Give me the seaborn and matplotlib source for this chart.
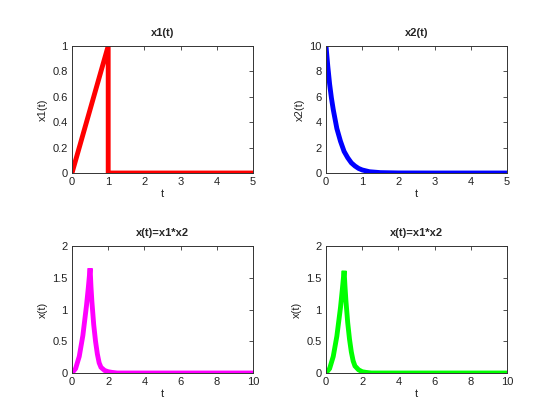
import matplotlib
matplotlib.use("Agg")
import matplotlib.pyplot as plt
import seaborn as sns
import numpy as np

# --- data ---
t1 = [0, 1, 1, 5]
x1 = [0, 1, 0, 0]

t2 = [0, 0.05, 0.1, 0.15, 0.2, 0.3, 0.4, 0.5, 0.6, 0.7, 0.8, 0.9, 1.0, 1.2, 1.5, 2, 3, 4, 5]
x2 = [10, 8.4, 7.0, 5.9, 5.0, 3.5, 2.5, 1.7, 1.2, 0.8, 0.55, 0.36, 0.24, 0.1, 0.03, 0.005, 0, 0, 0]

t3 = [0, 0.2, 0.4, 0.6, 0.8, 0.9, 1.0, 1.05, 1.1, 1.2, 1.3, 1.4, 1.5, 1.6, 1.8, 2.0, 2.2, 2.5, 3, 4, 5, 6, 7, 8, 9, 10]
x3 = [0, 0.07, 0.26, 0.59, 1.06, 1.34, 1.65, 1.35, 1.12, 0.76, 0.5, 0.3, 0.16, 0.09, 0.04, 0.02, 0.01, 0, 0, 0, 0, 0, 0, 0, 0, 0]

t4 = [0, 0.2, 0.4, 0.6, 0.8, 0.9, 1.0, 1.05, 1.1, 1.2, 1.3, 1.4, 1.5, 1.6, 1.8, 2.0, 2.2, 2.5, 3, 4, 5, 6, 7, 8, 9, 10]
x4 = [0, 0.07, 0.26, 0.58, 1.03, 1.31, 1.61, 1.36, 1.14, 0.79, 0.53, 0.33, 0.19, 0.11, 0.05, 0.02, 0.01, 0, 0, 0, 0, 0, 0, 0, 0, 0]

titles = ["x1(t)", "x2(t)", "x(t)=x1*x2", "x(t)=x1*x2"]
ylabels = ["x1(t)", "x2(t)", "x(t)", "x(t)"]
colors = ["#ff0000", "#0000ff", "#ff00ff", "#00ff00"]

sns.set_style("white")
plt.rcParams["font.family"] = ["Liberation Sans", "DejaVu Sans"]

fig = plt.figure(figsize=(5.6, 4.2), dpi=100)
W, H = 560, 420
boxes = [(72, 173), (326, 173), (72, 373), (326, 373)]
aw, ah = 181, 127

series = [(t1, x1), (t2, x2), (t3, x3), (t4, x4)]
xlims = [(0, 5), (0, 5), (0, 10), (0, 10)]
ylims = [(0, 1), (0, 10), (0, 2), (0, 2)]
xticks = [[0, 1, 2, 3, 4, 5], [0, 1, 2, 3, 4, 5], [0, 2, 4, 6, 8, 10], [0, 2, 4, 6, 8, 10]]
yticks = [[0, 0.2, 0.4, 0.6, 0.8, 1], [0, 2, 4, 6, 8, 10], [0, 0.5, 1, 1.5, 2], [0, 0.5, 1, 1.5, 2]]
yticklabels = [["0", "0.2", "0.4", "0.6", "0.8", "1"], ["0", "2", "4", "6", "8", "10"],
               ["0", "0.5", "1", "1.5", "2"], ["0", "0.5", "1", "1.5", "2"]]

for i in range(4):
    x0, y0 = boxes[i]
    ax = fig.add_axes([x0 / W, (H - y0) / H, aw / W, ah / H])
    tt, yy = series[i]
    sns.lineplot(x=tt, y=yy, ax=ax, color=colors[i], linewidth=3.5,
                 estimator=None, sort=False, solid_joinstyle="miter")
    ax.set_xlim(*xlims[i])
    ax.set_ylim(*ylims[i])
    ax.set_xticks(xticks[i])
    ax.set_xticklabels([str(v) for v in xticks[i]])
    ax.set_yticks(yticks[i])
    ax.set_yticklabels(yticklabels[i])
    for s in ax.spines.values():
        s.set_color("#333333")
        s.set_linewidth(0.7)
        s.set_visible(True)
    ax.tick_params(direction="in", length=3, width=0.6, color="#333333",
                   labelsize=8, labelcolor="#222222", top=True, right=True, pad=3)
    ax.set_title(titles[i], fontsize=8, fontweight="bold", pad=7)
    ax.set_xlabel("t", fontsize=8, labelpad=1, color="#222222")
    ax.set_ylabel(ylabels[i], fontsize=8, labelpad=3, color="#222222")

fig.savefig("out.png", dpi=100)
